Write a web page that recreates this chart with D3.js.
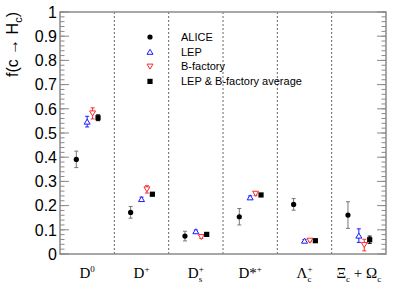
<!DOCTYPE html>
<html>
<head>
<meta charset="utf-8">
<script src="https://cdn.jsdelivr.net/npm/d3@7/dist/d3.min.js"></script>
<style>
  body { margin: 0; background: #fff; }
  svg { display: block; }
</style>
</head>
<body>
<svg id="chart" width="398" height="299"></svg>
<script>
// Hadron species (label parts: base, superscript, subscript)
const categories = [
  { base: "D", sup: "0", sub: "" },
  { base: "D", sup: "+", sub: "" },
  { base: "D", sup: "+", sub: "s" },
  { base: "D*", sup: "+", sub: "" },
  { base: "Λ", sup: "+", sub: "c" },
  { base: "Ξ", sup: "", sub: "c", extra: " + Ω", extraSub: "c" }
];

// ALICE
const aliceVal = [0.391, 0.172, 0.074, 0.154, 0.205, 0.161];
const aliceErr = [0.034, 0.024, 0.020, 0.034, 0.024, 0.055];
// LEP
const lepVal = [0.547, 0.227, 0.094, 0.234, 0.055, 0.076];
const lepErr = [0.022, 0.008, 0.005, 0.006, 0.005, 0.028];
// B-factory
const bfVal = [0.581, 0.267, 0.070, 0.249, 0.055, 0.037];
const bfErr = [0.023, 0.015, 0.005, 0.008, 0.004, 0.024];
// LEP & B-factory average
const avgVal = [0.563, 0.247, 0.081, 0.244, 0.055, 0.059];
const avgErr = [0.012, 0.006, 0.004, 0.005, 0.003, 0.015];

const yTicks = [0, 0.1, 0.2, 0.3, 0.4, 0.5, 0.6, 0.7, 0.8, 0.9, 1];

const margin = { left: 60, right: 12, top: 12, bottom: 45 };
const W = 398, H = 299;
const svg = d3.select("#chart");

const x = d3.scaleBand()
  .domain(d3.range(categories.length))
  .range([margin.left, W - margin.right])
  .padding(0);
const y = d3.scaleLinear().domain([0, 1]).range([H - margin.bottom, margin.top]);

const axisColor = "#8a8a8a";

// dashed separators between species
svg.append("g").selectAll("line")
  .data(d3.range(1, categories.length))
  .enter().append("line")
  .attr("x1", d => x(d)).attr("x2", d => x(d))
  .attr("y1", y(1)).attr("y2", y(0))
  .attr("stroke", "#666").attr("stroke-width", 1)
  .attr("stroke-dasharray", "2,2");

// left and right axes (ROOT style, ticks inward)
const minor = d3.range(0, 1.0001, 0.02);
function ticks(xPos, dir) {
  const g = svg.append("g");
  g.selectAll("line.minor").data(minor).enter().append("line")
    .attr("x1", xPos).attr("x2", xPos + dir * 4.5)
    .attr("y1", d => y(d)).attr("y2", d => y(d))
    .attr("stroke", axisColor).attr("stroke-width", 1);
  g.selectAll("line.major").data(yTicks).enter().append("line")
    .attr("x1", xPos).attr("x2", xPos + dir * 9)
    .attr("y1", d => y(d)).attr("y2", d => y(d))
    .attr("stroke", axisColor).attr("stroke-width", 1);
}
ticks(margin.left, 1);
ticks(W - margin.right, -1);

// frame
svg.append("rect")
  .attr("x", margin.left).attr("y", y(1))
  .attr("width", W - margin.left - margin.right)
  .attr("height", y(0) - y(1))
  .attr("fill", "none").attr("stroke", axisColor).attr("stroke-width", 1.5);

// y tick labels
svg.append("g").selectAll("text")
  .data(yTicks).enter().append("text")
  .attr("x", margin.left - 3)
  .attr("y", d => y(d))
  .attr("dy", "0.36em")
  .attr("text-anchor", "end")
  .attr("font-family", "Liberation Sans, Arial, sans-serif")
  .attr("font-size", 16)
  .text(d => d3.format("~g")(d));

// y title
const yt = svg.append("text")
  .attr("transform", "translate(18," + margin.top + ") rotate(-90)")
  .attr("text-anchor", "end")
  .attr("font-family", "Liberation Sans, Arial, sans-serif")
  .attr("font-size", 16);
yt.append("tspan").text("f(c → H");
yt.append("tspan").attr("font-size", 11).attr("dy", 4).text("c");
yt.append("tspan").attr("dy", -4).text(")");

// x category labels
const xl = svg.append("g").selectAll("text")
  .data(categories).enter().append("text")
  .attr("x", (d, i) => x(i) + x.bandwidth() / 2)
  .attr("y", 278)
  .attr("text-anchor", "middle")
  .attr("font-family", "Liberation Serif, Times New Roman, serif")
  .attr("font-size", 15);
xl.each(function (d) {
  const t = d3.select(this);
  t.append("tspan").text(d.base);
  if (d.sup && d.sub) {
    t.append("tspan").attr("font-size", 9).attr("dy", -6).text(d.sup);
    t.append("tspan").attr("font-size", 9).attr("dx", -5).attr("dy", 10).text(d.sub);
  } else if (d.sup) {
    t.append("tspan").attr("font-size", 9).attr("dy", -6).text(d.sup);
  } else if (d.sub) {
    t.append("tspan").attr("font-size", 9).attr("dy", 4).text(d.sub);
  }
  if (d.extra) {
    t.append("tspan").attr("dy", -4).text(d.extra);
    t.append("tspan").attr("font-size", 9).attr("dy", 4).text(d.extraSub);
  }
});

// series
const series = [
  { name: "ALICE", val: aliceVal, err: aliceErr, off: -0.2, shape: "circle", color: "#000", errColor: "#777" },
  { name: "LEP", val: lepVal, err: lepErr, off: 0, shape: "up", color: "#1a1aff", errColor: "#1a1aff" },
  { name: "B-factory", val: bfVal, err: bfErr, off: 0.1, shape: "down", color: "#ff2a2a", errColor: "#ff2a2a" },
  { name: "LEP & B-factory average", val: avgVal, err: avgErr, off: 0.2, shape: "square", color: "#000", errColor: "#000" }
];

function marker(g, s, cx, cy) {
  if (s.shape === "circle") {
    g.append("circle").attr("cx", cx).attr("cy", cy).attr("r", 2.6).attr("fill", s.color);
  } else if (s.shape === "square") {
    g.append("rect").attr("x", cx - 2.6).attr("y", cy - 2.6).attr("width", 5.2).attr("height", 5.2).attr("fill", s.color);
  } else {
    const h = 5, w = 3;
    const pts = s.shape === "up"
      ? [[cx - w, cy + h / 2], [cx + w, cy + h / 2], [cx, cy - h / 2]]
      : [[cx - w, cy - h / 2], [cx + w, cy - h / 2], [cx, cy + h / 2]];
    g.append("polygon").attr("points", pts.map(p => p.join(",")).join(" "))
      .attr("fill", "#fff").attr("stroke", s.color).attr("stroke-width", 1);
  }
}

series.forEach(s => {
  const g = svg.append("g");
  s.val.forEach((v, i) => {
    const cx = x(i) + x.bandwidth() * (0.5 + s.off);
    const y1 = y(v + s.err[i]), y0 = y(v - s.err[i]);
    g.append("line").attr("x1", cx).attr("x2", cx).attr("y1", y1).attr("y2", y0)
      .attr("stroke", s.errColor).attr("stroke-width", 1);
    [y1, y0].forEach(yy => g.append("line")
      .attr("x1", cx - 2).attr("x2", cx + 2).attr("y1", yy).attr("y2", yy)
      .attr("stroke", s.errColor).attr("stroke-width", 1));
    marker(g, s, cx, y(v));
  });
});

// legend
const leg = svg.append("g");
series.forEach((s, i) => {
  const ly = 37 + i * 14.8;
  marker(leg, s, 150, ly);
  leg.append("text")
    .attr("x", 181).attr("y", ly).attr("dy", "0.35em")
    .attr("font-family", "Liberation Sans, Arial, sans-serif")
    .attr("font-size", 11)
    .text(s.name);
});
</script>
</body>
</html>
